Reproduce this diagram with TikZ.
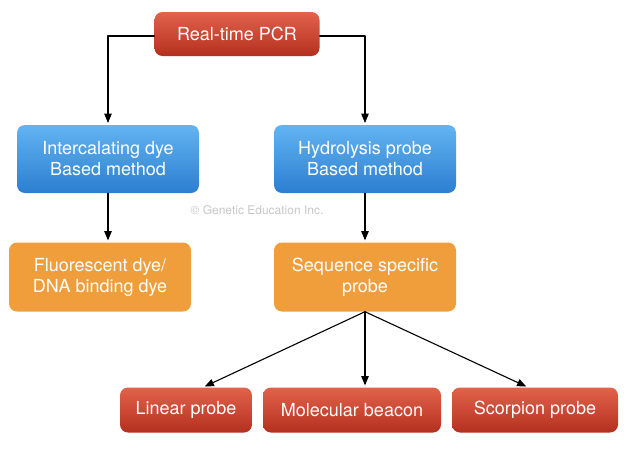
\documentclass[tikz,border=0pt]{standalone}
\usepackage{fontspec}
\setmainfont{TeX Gyre Heros}
\usepackage{tikz}
\usetikzlibrary{arrows}
\definecolor{redtop}{RGB}{226,98,76}
\definecolor{redbot}{RGB}{180,48,30}
\definecolor{bluetop}{RGB}{98,180,242}
\definecolor{bluebot}{RGB}{44,126,208}
\definecolor{orangebox}{RGB}{240,158,60}
\definecolor{wmgray}{RGB}{200,200,200}

\tikzset{
	box/.style={rounded corners=8pt,align=center,text=white,inner sep=0pt,font=\fontsize{18}{21}\selectfont},
	redbox/.style={box,top color=redtop,bottom color=redbot,minimum height=45pt},
	bluebox/.style={box,top color=bluetop,bottom color=bluebot,minimum width=182pt,minimum height=68pt},
	orangebox/.style={box,fill=orangebox,minimum width=182pt,minimum height=69pt},
	link/.style={->,color=black,line width=1.1pt}
}

\begin{document}
\begin{tikzpicture}[line cap=round,line join=round,>=triangle 45,x=1pt,y=-1pt]
					\fill[white] (0,0) rectangle (624,450);
					\useasboundingbox (0,0) rectangle (624,450);
					
					\node[wmgray,font=\fontsize{12}{14}\selectfont] (wm) at (257,210) {© Genetic Education Inc.};
					
					\node[redbox,minimum width=165pt,minimum height=44pt] (pcr) at (237,34) {Real-time PCR};
					
					\node[bluebox] (inter) at (108,159) {Intercalating dye\\Based method};
					
					\node[bluebox] (hydro) at (365,159) {Hydrolysis probe\\Based method};
					
					\node[orangebox] (fluor) at (100,277) {Fluorescent dye/\\DNA binding dye};
					
					\node[orangebox] (seq) at (365,277) {Sequence specific\\probe};
					
					\node[redbox,minimum width=132pt] (linear) at (186,410) {Linear probe};
					
					\node[redbox,minimum width=178pt] (beacon) at (352,410) {Molecular beacon};
					
					\node[redbox,minimum width=166pt] (scorp) at (535,410) {Scorpion probe};
					
					\draw[link,shorten >=2pt] ([yshift=-2pt]pcr.west) -| (inter.north);
					
					\draw[link,shorten >=2pt] ([yshift=-2pt]pcr.east) -| (hydro.north);
					
					\draw[link,shorten >=2pt] (inter.south) -- (inter.south |- fluor.north);
					
					\draw[link,shorten >=2pt] (hydro.south) -- (seq.north);
					
					\draw[link,shorten >=2pt] (seq.south) -- (seq.south |- beacon.north);
					
					\foreach \to/\dx in {linear/17,scorp/-7}
					\draw[link,shorten >=2pt] (seq.south) -- ([xshift=\dx pt]\to.north);
				\end{tikzpicture}
\end{document}
